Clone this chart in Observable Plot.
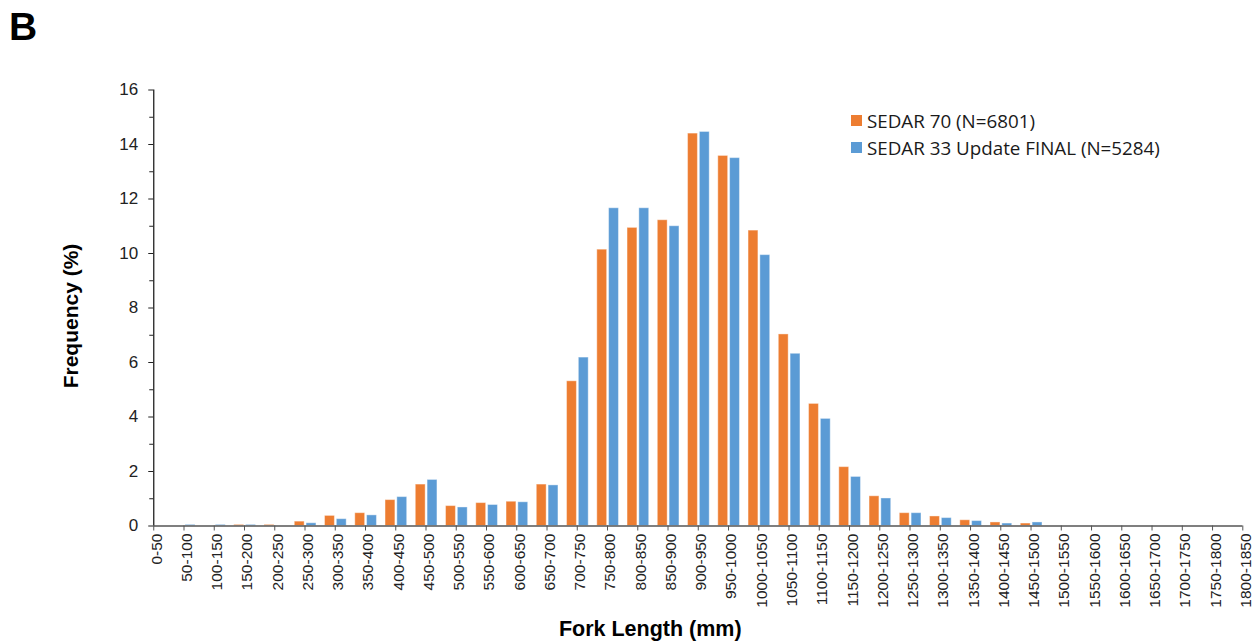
<!DOCTYPE html>
<html>
<head>
<meta charset="utf-8">
<script src="https://cdn.jsdelivr.net/npm/d3@7"></script>
<script src="https://cdn.jsdelivr.net/npm/@observablehq/plot@0.6"></script>
<style>
  html, body { margin: 0; padding: 0; background: #fff; }
  #wrap { position: relative; width: 1255px; height: 642px; overflow: hidden; }
  #wrap svg { position: absolute; left: 0; top: 0; }
  #panel { position: absolute; left: 9px; top: 7px; font: bold 39px/1 "Liberation Sans", Arial, sans-serif; color: #000; }
  #legend { position: absolute; left: 851px; top: 107px; font-family: "Open Sans", sans-serif; font-size: 18.8px; color: #1a1a1a; }
  .row { display: flex; align-items: center; height: 27px; }
  .sw { width: 11px; height: 11px; margin-right: 5px; flex: none; }
</style>
</head>
<body>
<div id="wrap">
  <div id="panel">B</div>
  <div id="legend"></div>
</div>
<script>
const categories = ["0-50","50-100","100-150","150-200","200-250","250-300","300-350","350-400","400-450","450-500",
  "500-550","550-600","600-650","650-700","700-750","750-800","800-850","850-900","900-950","950-1000",
  "1000-1050","1050-1100","1100-1150","1150-1200","1200-1250","1250-1300","1300-1350","1350-1400","1400-1450","1450-1500",
  "1500-1550","1550-1600","1600-1650","1650-1700","1700-1750","1750-1800","1800-1850"];
const sedar70 = [0, 0, 0, 0.04, 0.04, 0.16, 0.37, 0.47, 0.95, 1.52,
  0.73, 0.84, 0.89, 1.52, 5.31, 10.14, 10.94, 11.22, 14.4, 13.58,
  10.84, 7.03, 4.48, 2.16, 1.09, 0.47, 0.35, 0.21, 0.13, 0.09,
  0, 0, 0, 0, 0, 0, 0];
const sedar33 = [0, 0.04, 0.04, 0.04, 0, 0.1, 0.25, 0.39, 1.06, 1.69,
  0.68, 0.77, 0.87, 1.49, 6.18, 11.66, 11.66, 11.0, 14.46, 13.5,
  9.94, 6.32, 3.93, 1.8, 1.01, 0.47, 0.29, 0.18, 0.09, 0.13,
  0, 0, 0, 0, 0, 0, 0];
const seriesNames = ["SEDAR 70 (N=6801)", "SEDAR 33 Update FINAL (N=5284)"];
const seriesColors = ["#ED7D31", "#5B9BD5"];
const yMajor = [0, 2, 4, 6, 8, 10, 12, 14, 16];
const yMinor = [1, 3, 5, 7, 9, 11, 13, 15];

const data = categories.map((c, i) => ({cat: c, s70: sedar70[i], s33: sedar33[i]}));

const W = 1255, H = 642;
const mL = 153.25, mR = 12.7;
const bw = (W - mR - mL) / (categories.length - 1);

const chart = Plot.plot({
  width: W, height: H,
  marginTop: 89.5, marginBottom: 116.5, marginLeft: mL, marginRight: mR,
  style: {fontFamily: "'Liberation Sans', Arial, sans-serif", background: "transparent", color: "#222", overflow: "visible"},
  x: {type: "band", domain: categories, range: [mL - bw / 2, W - mR + bw / 2], padding: 0, round: false},
  y: {domain: [0, 16]},
  marks: [
    Plot.barY(data, {x: "cat", y: "s70", fill: seriesColors[0], insetLeft: 4.9, insetRight: 15.5,
      stroke: "white", strokeOpacity: 0.4, strokeWidth: 1}),
    Plot.barY(data, {x: "cat", y: "s33", fill: seriesColors[1], insetLeft: 16.7, insetRight: 3.7,
      stroke: "white", strokeOpacity: 0.4, strokeWidth: 1}),
    Plot.ruleY([0], {stroke: "#555", strokeWidth: 1.3}),
    Plot.ruleX([categories[0]], {y1: 0, y2: 16, stroke: "#222", strokeWidth: 1.3}),
    Plot.axisY({ticks: yMajor, tickSize: 5, tickPadding: 10.5, fontSize: 17, label: null, stroke: "#222"}),
    Plot.axisY({ticks: yMinor, tickSize: 4, fill: "none", label: null, stroke: "#222"}),
    Plot.axisX({tickSize: 5, fill: "none", label: null, stroke: "#555"}),
    Plot.axisX({tickSize: 0, tickPadding: 7.5, tickRotate: -90, fontSize: 15.5, dx: 3, label: null, fill: "#222"}),
    Plot.text(["Frequency (%)"], {frameAnchor: "left", rotate: -90, dx: -82.5, dy: 8, textAnchor: "middle", lineAnchor: "middle",
      fontSize: 21, fontWeight: "bold", fill: "#000"}),
    Plot.text(["Fork Length (mm)"], {frameAnchor: "bottom", dx: -48, dy: 109.5, textAnchor: "middle", lineAnchor: "bottom",
      fontSize: 21.5, fontWeight: "bold", fill: "#000"})
  ]
});

const wrap = document.getElementById("wrap");
wrap.insertBefore(chart, wrap.firstChild);

const legend = document.getElementById("legend");
seriesNames.forEach((name, i) => {
  const row = document.createElement("div");
  row.className = "row";
  const sw = document.createElement("span");
  sw.className = "sw";
  sw.style.background = seriesColors[i];
  const label = document.createElement("span");
  label.textContent = name;
  row.appendChild(sw);
  row.appendChild(label);
  legend.appendChild(row);
});
</script>
</body>
</html>
